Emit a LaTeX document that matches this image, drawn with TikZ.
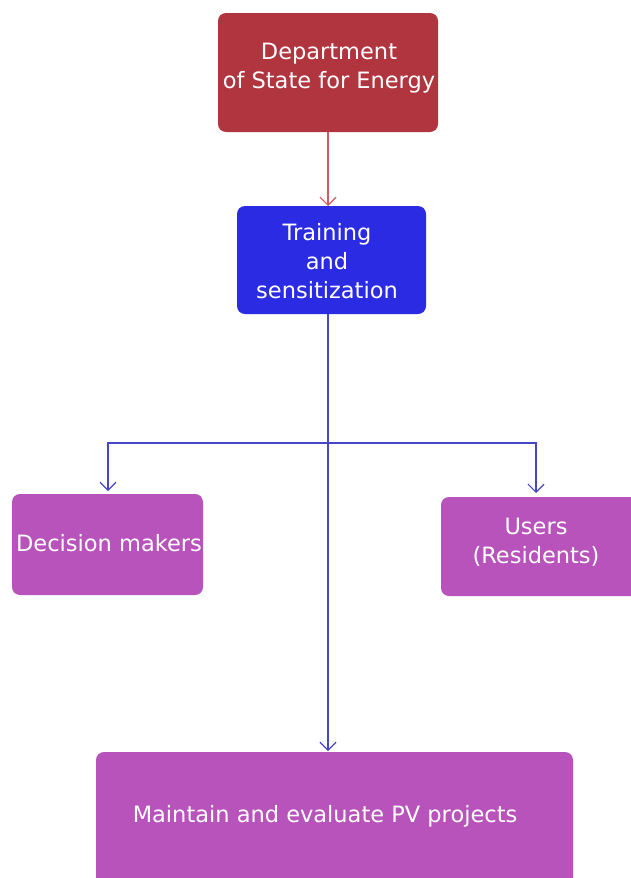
\documentclass[tikz,border=0pt]{standalone}
\usepackage{fontspec}
\setmainfont{DejaVu Sans}
\usetikzlibrary{arrows.meta}
\definecolor{deptred}{HTML}{B0353F}
\definecolor{trainblue}{HTML}{2B2BE3}
\definecolor{boxpurple}{HTML}{B853BC}
\definecolor{redline}{HTML}{D05A60}
\definecolor{blueline}{HTML}{4646C8}
\tikzset{
  box/.style={rounded corners=8pt, text=white, font=\fontsize{22.5}{29}\selectfont, align=center, inner sep=0pt},
  conn/.style={line width=1.2pt, -{Straight Barb[length=8pt,width=16pt]}},
}
\begin{document}
\begin{tikzpicture}[x=1pt,y=-1pt]
\useasboundingbox (0,0) rectangle (630,878);
\fill[white] (0,0) rectangle (630,878);
% boxes
\fill[deptred, rounded corners=8pt] (218,13) rectangle (438,132);
\node[box] (dept) at (329,68) {Department\\of State for Energy};
\coordinate (deptb) at (328,132);
\fill[trainblue, rounded corners=8pt] (237,206) rectangle (426,314);
\node[box] (train) at (327,261) {Training\\and\\sensitization};
\coordinate (traint) at (328,206);
\coordinate (trainb) at (328,314);
\fill[boxpurple, rounded corners=8pt] (12,494) rectangle (203,595);
\node[box] (dec) at (109,543) {Decision makers};
\coordinate (dect) at (108,491);
\fill[boxpurple, rounded corners=8pt] (441,497) rectangle (640,596);
\node[box] (users) at (536,542) {Users\\(Residents)};
\coordinate (usert) at (536,493);
\fill[boxpurple, rounded corners=8pt] (96,752) rectangle (573,890);
\node[box] (maint) at (325,816) {Maintain and evaluate PV projects};
\coordinate (maintt) at (328,751);
% connectors
\draw[conn, redline] (deptb) -- (traint);
\coordinate (jn) at (328,443);
\draw[conn, blueline] (trainb) -- (maintt);
\draw[conn, blueline] (jn) -| (dect);
\draw[conn, blueline] (jn) -| (usert);
\end{tikzpicture}
\end{document}
